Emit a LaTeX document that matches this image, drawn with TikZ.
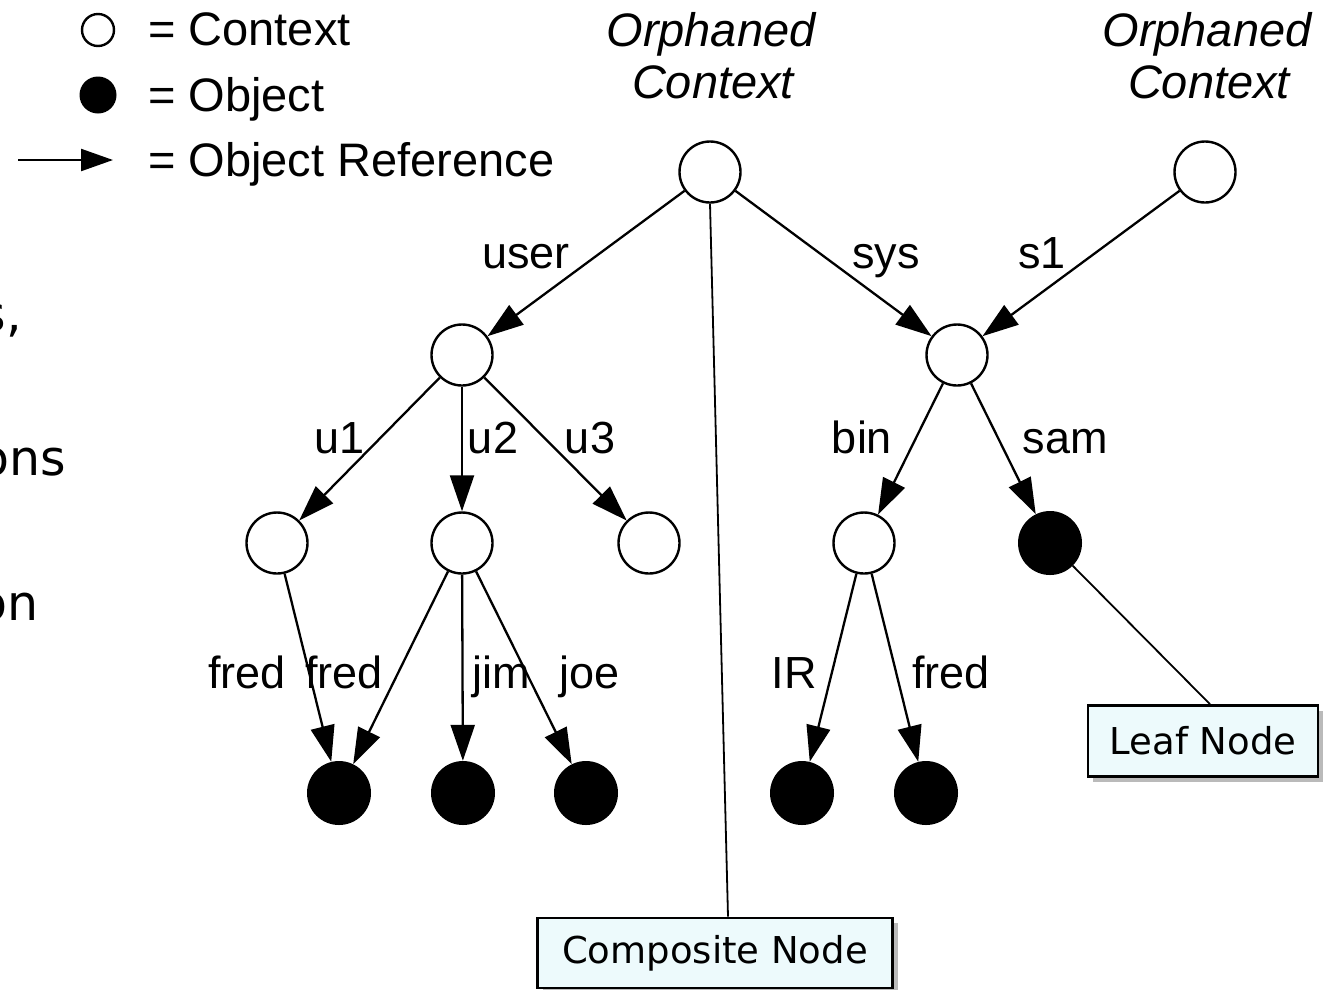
\documentclass[tikz,border=0pt]{standalone}
\usepackage{fontspec}
\setmainfont{Liberation Sans}
\newfontfamily\slidefont{DejaVu Sans}
\usetikzlibrary{arrows.meta,shadows,calc}

\definecolor{boxfill}{RGB}{237,250,252}

\tikzset{
  ctx/.style={circle, draw, line width=2.4pt, minimum size=61pt, inner sep=0pt, fill=white},
  obj/.style={circle, fill=black, minimum size=64pt, inner sep=0pt},
  ref/.style={line width=2.3pt, -{Triangle[length=36pt,width=24pt]}},
  lbl/.style={font=\fontsize{45}{54}\selectfont, inner sep=0pt, anchor=base},
  legtext/.style={font=\fontsize{47}{56}\selectfont, inner sep=0pt, anchor=base west},
  orphan/.style={font=\fontsize{47}{56}\selectfont\itshape, inner sep=0pt, anchor=base},
  callout/.style={draw, line width=2.6pt, fill=boxfill, inner sep=0pt,
    font=\slidefont\fontsize{37}{44}\selectfont,
    drop shadow={shadow xshift=5pt, shadow yshift=-5pt, opacity=0.45, fill=black!60}},
  pointer/.style={line width=1.8pt},
  slidetext/.style={font=\slidefont\fontsize{49}{58}\selectfont, inner sep=0pt, anchor=base east},
}

\begin{document}
\begin{tikzpicture}[x=1pt, y=-1pt]
  \useasboundingbox (0,0) rectangle (1324,989);
  \clip (0,0) rectangle (1324,989);

  % slide text running in from the left
  \node[slidetext] (frag1) at (22,331) {s,};
  \node[slidetext] (frag2) at (66,475) {ons};
  \node[slidetext] (frag3) at (39,620) {on};

  % legend
  \node[circle, draw, line width=2.4pt, minimum size=32pt, inner sep=0pt] (legctx) at (98,30) {};
  \node[circle, fill=black, minimum size=37pt, inner sep=0pt] (legobj) at (98,95) {};
  \coordinate (legA) at (18,160);
  \coordinate (legB) at (113,160);
  \draw[line width=2.3pt, -{Triangle[length=32pt,width=22pt]}] (legA) -- (legB);
  \node[legtext] (t1) at (148,45) {= Context};
  \node[legtext] (t2) at (148,111) {= Object};
  \node[legtext] (t3) at (148,176) {= Object Reference};

  % orphaned contexts
  \node[orphan] (o1a) at (711,46) {Orphaned};
  \node[orphan] (o1b) at (713,98) {Context};
  \node[orphan] (o2a) at (1207,46) {Orphaned};
  \node[orphan] (o2b) at (1209,98) {Context};

  % contexts
  \node[ctx] (R)  at (710,172) {};
  \node[ctx] (O2) at (1205,172) {};
  \node[ctx] (U)  at (462,355) {};
  \node[ctx] (S)  at (957,355) {};
  \node[ctx] (A)  at (277,543) {};
  \node[ctx] (B)  at (462,543) {};
  \node[ctx] (C)  at (649,543) {};
  \node[ctx] (D)  at (864,543) {};

  % objects
  \node[obj] (E)  at (1050,543) {};
  \node[obj] (L1) at (339,793) {};
  \node[obj] (L2) at (463,793) {};
  \node[obj] (L3) at (586,793) {};
  \node[obj] (L4) at (802,793) {};
  \node[obj] (L5) at (926,793) {};

  % references
  \draw[ref] (R) -- (U);
  \draw[ref] (R) -- (S);
  \draw[ref] (O2) -- (S);
  \draw[ref] (U) -- (A);
  \draw[ref] (U) -- (B);
  \draw[ref] (U) -- (C);
  \draw[ref] (S) -- (D);
  \draw[ref] (S) -- (E);
  \draw[ref] (A) -- (L1);
  \draw[ref] (B) -- (L1);
  \draw[ref] (B) -- (L2);
  \draw[ref] (B) -- (L3);
  \draw[ref] (D) -- (L4);
  \draw[ref] (D) -- (L5);

  % reference names
  \node[lbl] (luser) at (526,268) {user};
  \node[lbl] (lsys)  at (886,268) {sys};
  \node[lbl] (ls1)   at (1042,268) {s1};
  \node[lbl] (lu1)   at (340,453) {u1};
  \node[lbl] (lu2)   at (493,453) {u2};
  \node[lbl] (lu3)   at (590,453) {u3};
  \node[lbl] (lbin)  at (862,453) {bin};
  \node[lbl] (lsam)  at (1065,453) {sam};
  \node[lbl] (lf1)   at (247,688) {fred};
  \node[lbl] (lf2)   at (344,688) {fred};
  \node[lbl] (ljim)  at (501,688) {jim};
  \node[lbl] (ljoe)  at (590,688) {joe};
  \node[lbl] (lIR)   at (794,688) {IR};
  \node[lbl] (lf3)   at (951,688) {fred};

  % call-outs
  \node[callout, minimum width=230pt, minimum height=71pt] (leaf) at (1203,741) {Leaf Node};
  \node[callout, minimum width=355pt, minimum height=70pt] (comp) at (715,953) {Composite Node};
  \draw[pointer] (R.south) -- ($(comp.north)+(13,0)$);
  \draw[pointer] (E.south east) -- ($(leaf.north)+(7,0)$);
\end{tikzpicture}
\end{document}
